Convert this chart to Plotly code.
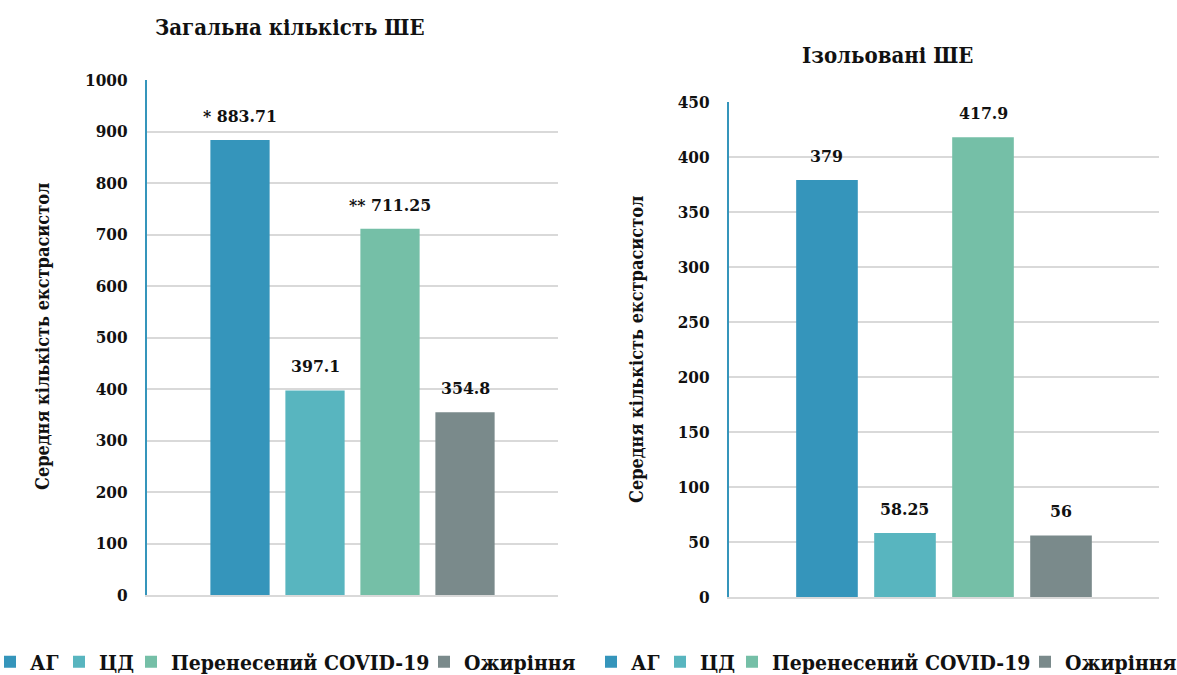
import plotly.graph_objects as go

# Groups of patients and their colours
groups = ["АГ", "ЦД", "Перенесений COVID-19", "Ожиріння"]
colors = ["#3595BB", "#58B5BF", "#75BFA7", "#7A8A8B"]
legend_widths = [24, 27, 248, None]

# Mean number of premature ventricular beats (total)
total_pvc = [883.71, 397.1, 711.25, 354.8]
total_marks = ["* ", "", "** ", ""]
total_ticks = [0, 100, 200, 300, 400, 500, 600, 700, 800, 900, 1000]

# Mean number of isolated premature ventricular beats
isolated_pvc = [379, 58.25, 417.9, 56]
isolated_marks = ["", "", "", ""]
isolated_ticks = [0, 50, 100, 150, 200, 250, 300, 350, 400, 450]

titles = ["Загальна кількість ШЕ", "Ізольовані ШЕ"]
y_title = "Середня кількість екстрасистол"

FONT = "DejaVu Serif Condensed, DejaVu Serif, serif"
GRID = "#D9D9D9"

fig = go.Figure()

panels = [
    dict(values=total_pvc, marks=total_marks, ticks=total_ticks, xa="x", ya="y", legend="legend"),
    dict(values=isolated_pvc, marks=isolated_marks, ticks=isolated_ticks, xa="x2", ya="y2", legend="legend2"),
]

annotations = []
for p in panels:
    for name, val, col, lw in zip(groups, p["values"], colors, legend_widths):
        fig.add_trace(go.Bar(
            x=[name], y=[val], name=name,
            marker=dict(color=col, line=dict(width=0)),
            width=0.79,
            xaxis=p["xa"], yaxis=p["ya"], legend=p["legend"],
            legendwidth=lw,
            hoverinfo="skip",
        ))
    for name, val, mark in zip(groups, p["values"], p["marks"]):
        annotations.append(dict(
            x=name, y=val, xref=p["xa"], yref=p["ya"],
            text=f"<b>{mark}{val:g}</b>", showarrow=False,
            yanchor="middle", yshift=24,
            font=dict(family=FONT, size=17.5, color="#111111"),
        ))

# Panel titles
annotations.append(dict(x=290 / 1177, y=1 - 27 / 675, xref="paper", yref="paper",
                        text=f"<b>{titles[0]}</b>", showarrow=False, xanchor="center", yanchor="middle",
                        font=dict(family=FONT, size=22, color="#111111")))
annotations.append(dict(x=887 / 1177, y=1 - 55 / 675, xref="paper", yref="paper",
                        text=f"<b>{titles[1]}</b>", showarrow=False, xanchor="center", yanchor="middle",
                        font=dict(family=FONT, size=22, color="#111111")))

# Y-axis titles
for xc, yc in [(42, 337), (636, 350)]:
    annotations.append(dict(x=xc / 1177, y=1 - yc / 675, xref="paper", yref="paper",
                            text=f"<b>{y_title}</b>", showarrow=False, textangle=-90,
                            xanchor="center", yanchor="middle",
                            font=dict(family=FONT, size=18, color="#111111")))

tick_font = dict(family=FONT, size=17, color="#111111", weight="bold")
legend_font = dict(family=FONT, size=21, color="#111111", weight="bold")

xcommon = dict(type="category", categoryorder="array", categoryarray=groups,
               showticklabels=False, ticks="", showgrid=False, zeroline=False,
               showline=True, linecolor=GRID, linewidth=2, fixedrange=True)
ycommon = dict(showgrid=True, gridcolor=GRID, gridwidth=1.5, zeroline=False,
               showline=True, linecolor="#3595BB", linewidth=2, ticks="",
               tickfont=tick_font, ticklabelstandoff=14, fixedrange=True)

fig.update_layout(
    width=1177, height=675,
    margin=dict(l=0, r=0, t=0, b=0, autoexpand=False),
    paper_bgcolor="white", plot_bgcolor="white",
    barmode="overlay",
    showlegend=True,
    xaxis=dict(xcommon, domain=[147 / 1177, 558 / 1177], anchor="y", range=[-1.24, 4.24]),
    yaxis=dict(ycommon, domain=[1 - 595 / 675, 1 - 80 / 675], anchor="x",
               range=[0, 1000], tickvals=total_ticks),
    xaxis2=dict(xcommon, domain=[729 / 1177, 1159 / 1177], anchor="y2", range=[-1.256, 4.256]),
    yaxis2=dict(ycommon, domain=[1 - 597 / 675, 1 - 102 / 675], anchor="x2",
                range=[0, 450], tickvals=isolated_ticks),
    legend=dict(orientation="h", x=-10 / 1177, y=1 - 662 / 675, xanchor="left", yanchor="middle",
                font=legend_font, itemwidth=30, traceorder="normal", bgcolor="rgba(0,0,0,0)"),
    legend2=dict(orientation="h", x=591 / 1177, y=1 - 662 / 675, xanchor="left", yanchor="middle",
                 font=legend_font, itemwidth=30, traceorder="normal", bgcolor="rgba(0,0,0,0)"),
    annotations=annotations,
)

fig.write_html("out.html")
